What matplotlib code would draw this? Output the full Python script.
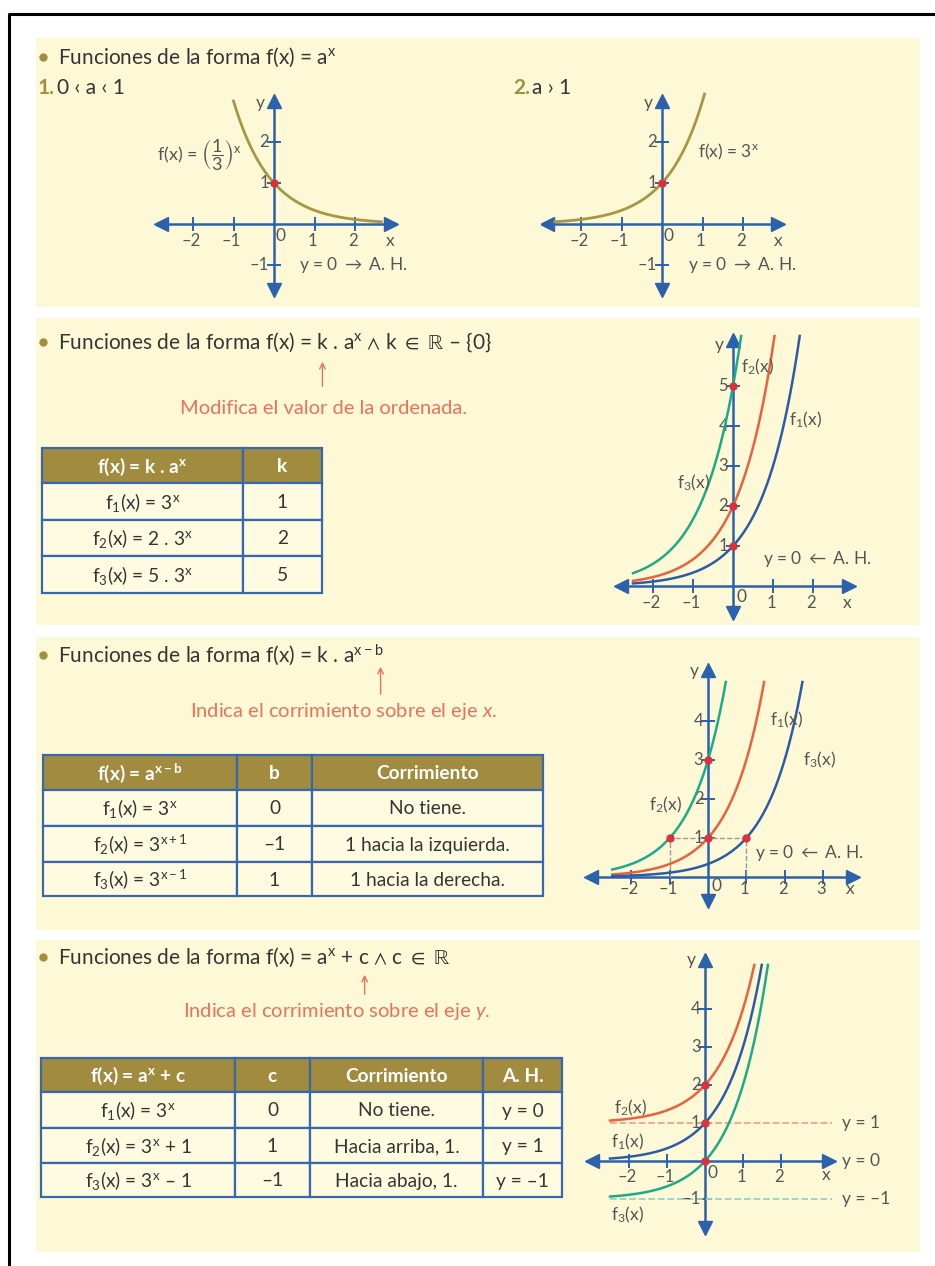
import numpy as np
import matplotlib.pyplot as plt
from matplotlib.patches import Rectangle

plt.rcParams['font.family'] = ['Lato', 'DejaVu Sans']
plt.rcParams['mathtext.fontset'] = 'custom'
plt.rcParams['mathtext.rm'] = 'Lato'
plt.rcParams['mathtext.it'] = 'Lato:italic'
plt.rcParams['mathtext.bf'] = 'Lato:bold'
plt.rcParams['mathtext.sf'] = 'Lato'
plt.rcParams['mathtext.default'] = 'rm'
plt.rcParams['mathtext.fallback'] = 'stixsans'

# parámetros de las funciones
base_a = 3
k_values = [1, 2, 5]
b_values = [0, -1, 1]
c_values = [0, 1, -1]

# textos de las tablas
k_header = [r'f(x) = k . a$^{\mathbf{x}}$', 'k']
k_formulas = [r'f$_1$(x) = 3$^{x}$', r'f$_2$(x) = 2 . 3$^{x}$', r'f$_3$(x) = 5 . 3$^{x}$']
b_header = [r'f(x) = a$^{\mathbf{x-b}}$', 'b', 'Corrimiento']
b_formulas = [r'f$_1$(x) = 3$^{x}$', r'f$_2$(x) = 3$^{x+1}$', r'f$_3$(x) = 3$^{x-1}$']
b_shifts = ['No tiene.', '1 hacia la izquierda.', '1 hacia la derecha.']
c_header = [r'f(x) = a$^{\mathbf{x}}$ + c', 'c', 'Corrimiento', 'A. H.']
c_formulas = [r'f$_1$(x) = 3$^{x}$', r'f$_2$(x) = 3$^{x}$ + 1', r'f$_3$(x) = 3$^{x}$ – 1']
c_shifts = ['No tiene.', 'Hacia arriba, 1.', 'Hacia abajo, 1.']

# colores
PANEL = '#FDF9D6'
ROW = '#FEFBE0'
HEAD = '#A08B3F'
OLIVE = '#A0903F'
BLUE = '#3768AE'
AXIS = '#2C62AB'
GOLD = '#A99642'
TEAL = '#1EAA8A'
ORANGE = '#E8623F'
NAVY = '#2D5CA6'
RED = '#D8333C'
SALMON = '#E8735B'
TXT = '#353535'
GRAY = '#555555'

FS_HEAD = 15
FS_NOTE = 14.5
FS_TAB = 13.8
FS_AX = 12
FS_LAB = 12.5

W, H = 935, 1266
fig = plt.figure(figsize=(W / 100, H / 100), dpi=100)
bg = fig.add_axes([0, 0, 1, 1])
bg.set_xlim(0, W)
bg.set_ylim(H, 0)
bg.axis('off')
renderer = fig.canvas.get_renderer()

# marco
bg.plot([9, 9, W], [H, 14, 14], color='black', lw=2.2)

# paneles de fondo
for top, bot in [(38, 307), (318, 625), (637, 930), (940, 1252)]:
    bg.add_patch(Rectangle((36, top), 884, bot - top, fc=PANEL, ec='none'))


def text_width(txt, size):
    t = bg.text(0, 0, txt, fontsize=size)
    w = t.get_window_extent(renderer).width
    t.remove()
    return w


def bullet(y, txt):
    bg.plot(43, y, 'o', color=OLIVE, ms=5)
    bg.text(58, y, txt, fontsize=FS_HEAD, color=TXT, va='center')


def note(prefix, mark, y0, y1, xt, yt, txt):
    # flecha debajo del símbolo señalado en el título
    x = 58 + text_width(prefix, FS_HEAD) - mark / 2
    bg.annotate('', xy=(x, y1), xytext=(x, y0),
                arrowprops=dict(arrowstyle='->', color=SALMON, lw=1.0))
    bg.text(xt, yt, txt, fontsize=FS_NOTE, color=SALMON, va='center')


bullet(57, r'Funciones de la forma f(x) = a$^{x}$')
bg.text(38, 88, '1.', fontsize=FS_HEAD, color=OLIVE, fontweight='bold', va='center')
bg.text(57, 88, '0 ‹ a ‹ 1', fontsize=FS_HEAD, color=TXT, va='center')
bg.text(513, 88, '2.', fontsize=FS_HEAD, color=OLIVE, fontweight='bold', va='center')
bg.text(532, 88, 'a › 1', fontsize=FS_HEAD, color=TXT, va='center')

bullet(342, r'Funciones de la forma f(x) = k . a$^{x}$ $\wedge$ k $\in$ $\mathbb{R}$ – {0}')
note('Funciones de la forma f(x) = k', text_width('k', FS_HEAD), 389, 359, 180, 408,
     'Modifica el valor de la ordenada.')

bullet(655, r'Funciones de la forma f(x) = k . a$^{x-b}$')
note(r'Funciones de la forma f(x) = k . a$^{x-b}$', 6, 697, 664, 190, 712,
     r'Indica el corrimiento sobre el eje $\mathit{x}$.')

bullet(957, r'Funciones de la forma f(x) = a$^{x}$ + c $\wedge$ c $\in$ $\mathbb{R}$')
note(r'Funciones de la forma f(x) = a$^{x}$ + c', text_width('c', FS_HEAD), 997, 972, 183, 1012,
     r'Indica el corrimiento sobre el eje $\mathit{y}$.')


def draw_table(xe, ye, header, rows):
    for i in range(len(ye) - 1):
        for j in range(len(xe) - 1):
            head = i == 0
            bg.add_patch(Rectangle((xe[j], ye[i]), xe[j + 1] - xe[j], ye[i + 1] - ye[i],
                                   fc=HEAD if head else ROW, ec=BLUE, lw=1.6))
            txt = header[j] if head else rows[i - 1][j]
            bg.text((xe[j] + xe[j + 1]) / 2, (ye[i] + ye[i + 1]) / 2 + 1, txt,
                    ha='center', va='center', fontsize=FS_TAB,
                    color='white' if head else TXT,
                    fontweight='bold' if head else 'normal')


def num(v):
    return str(v).replace('-', '–')


draw_table([42, 243, 322], [448, 483, 520, 556, 593], k_header,
           [[f, num(k)] for f, k in zip(k_formulas, k_values)])
draw_table([43, 237, 312, 543], [755, 790, 826, 862, 896], b_header,
           [[f, num(b), s] for f, b, s in zip(b_formulas, b_values, b_shifts)])
draw_table([41, 235, 310, 483, 562], [1058, 1092, 1128, 1163, 1197], c_header,
           [[f, num(c), s, 'y = ' + num(c)] for f, c, s in zip(c_formulas, c_values, c_shifts)])


def make_chart(ox, oy, ux, uy, xlim, ylim):
    left = (ox + xlim[0] * ux) / W
    width = (xlim[1] - xlim[0]) * ux / W
    bottom = 1 - (oy - ylim[0] * uy) / H
    height = (ylim[1] - ylim[0]) * uy / H
    ax = fig.add_axes([left, bottom, width, height])
    ax.set_xlim(xlim)
    ax.set_ylim(ylim)
    ax.axis('off')
    ax.ux, ax.uy = ux, uy
    return ax


def draw_axes(ax, xa, ya, xt, yt, xlab_dy, ylab_dx, lw=1.8):
    hx, hy = 4 / ax.ux, 4 / ax.uy
    ax.plot(xa, [0, 0], color=AXIS, lw=lw, zorder=2)
    ax.plot([0, 0], ya, color=AXIS, lw=lw, zorder=2)
    ax.plot(xa[0] + hx, 0, marker='<', ms=10, color=AXIS, zorder=2)
    ax.plot(xa[1] - hx, 0, marker='>', ms=10, color=AXIS, zorder=2)
    ax.plot(0, ya[0] + hy, marker='v', ms=10, color=AXIS, zorder=2)
    ax.plot(0, ya[1] - hy, marker='^', ms=10, color=AXIS, zorder=2)
    ax.plot(xt, np.zeros(len(xt)), ls='none', marker='|', ms=10, mew=1.4, color=AXIS, zorder=2)
    ax.plot(np.zeros(len(yt)), yt, ls='none', marker='_', ms=10, mew=1.4, color=AXIS, zorder=2)
    for v in xt:
        ax.text(v - 0.05, xlab_dy, num(v), ha='center', va='center', fontsize=FS_AX, color=GRAY)
    for v in yt:
        ax.text(ylab_dx, v, num(v), ha='right', va='center', fontsize=FS_AX, color=GRAY)


def dot(ax, x, y):
    ax.plot(x, y, 'o', color=RED, ms=5, zorder=4)


def label(ax, x, y, txt, ha='center', size=FS_LAB):
    ax.text(x, y, txt, ha=ha, va='center', fontsize=size, color=GRAY)


# 1. 0 < a < 1
ax1 = make_chart(274, 224, 40.5, 41, (-3.0, 3.2), (-1.9, 3.25))
draw_axes(ax1, (-2.9, 2.98), (-1.7, 3.1), [-2, -1, 1, 2], [-1, 1, 2], -0.42, -0.12)
xs = np.linspace(-1.0, 2.65, 200)
ax1.plot(xs, (1 / base_a) ** xs, color=GOLD, lw=2, zorder=3)
dot(ax1, 0, 1)
label(ax1, 0.17, -0.3, '0')
label(ax1, 2.87, -0.42, 'x')
label(ax1, -0.33, 2.95, 'y')
label(ax1, 0.62, -1.0, r'y = 0 $\rightarrow$ A. H.', ha='left')
label(ax1, -1.85, 1.68, r'f(x) = $\left(\dfrac{1}{3}\right)^{x}$', size=13)

# 2. a > 1
ax2 = make_chart(662, 224, 40.5, 41, (-3.0, 3.2), (-1.9, 3.25))
draw_axes(ax2, (-2.93, 2.96), (-1.7, 3.1), [-2, -1, 1, 2], [-1, 1, 2], -0.42, -0.12)
xs = np.linspace(-2.65, 1.05, 200)
ax2.plot(xs, base_a ** xs, color=GOLD, lw=2, zorder=3)
dot(ax2, 0, 1)
label(ax2, 0.17, -0.3, '0')
label(ax2, 2.87, -0.42, 'x')
label(ax2, -0.33, 2.95, 'y')
label(ax2, 0.65, -1.0, r'y = 0 $\rightarrow$ A. H.', ha='left')
label(ax2, 0.9, 1.76, r'f(x) = 3$^{x}$', ha='left')

# f(x) = k . a^x
ax3 = make_chart(733, 586, 40, 40, (-3.0, 3.2), (-0.9, 6.4))
draw_axes(ax3, (-2.9, 3.0), (-0.78, 6.25), [-2, -1, 1, 2], [1, 2, 3, 4, 5], -0.42, -0.12)
for k, col in zip(k_values, [NAVY, ORANGE, TEAL]):
    xs = np.linspace(-2.5, np.log(6.25 / k) / np.log(base_a), 200)
    ax3.plot(xs, k * base_a ** xs, color=col, lw=1.8, zorder=3)
    dot(ax3, 0, k)
label(ax3, 0.22, -0.28, '0')
label(ax3, 2.85, -0.42, 'x')
label(ax3, -0.33, 6.02, 'y')
label(ax3, 0.75, 0.68, r'y = 0 $\leftarrow$ A. H.', ha='left')
for lab, (lx, ly) in zip([r'f$_1$(x)', r'f$_2$(x)', r'f$_3$(x)'], [(1.8, 4.15), (0.6, 5.48), (-1.0, 2.58)]):
    label(ax3, lx, ly, lab)

# f(x) = a^(x-b)
ax4 = make_chart(708, 877, 38.3, 39, (-3.3, 4.0), (-0.85, 5.6))
draw_axes(ax4, (-3.16, 3.9), (-0.72, 5.4), [-2, -1, 1, 2, 3], [1, 2, 3, 4], -0.32, -0.12)
ax4.plot([-1, -1, 1, 1], [0, 1, 1, 0], ls='--', color='#9A9A9A', lw=1, zorder=2.5)
for b, col in zip(b_values, [ORANGE, TEAL, NAVY]):
    xs = np.linspace(-2.5, b + np.log(5.0) / np.log(base_a), 200)
    ax4.plot(xs, base_a ** (xs - b), color=col, lw=1.8, zorder=3)
    dot(ax4, b, 1)
dot(ax4, 0, base_a ** (0 - b_values[1]))
label(ax4, 0.21, -0.22, '0')
label(ax4, 3.7, -0.3, 'x')
label(ax4, -0.35, 5.28, 'y')
label(ax4, 1.22, 0.62, r'y = 0 $\leftarrow$ A. H.', ha='left')
for lab, (lx, ly) in zip([r'f$_1$(x)', r'f$_2$(x)', r'f$_3$(x)'], [(2.06, 4.03), (-1.12, 1.85), (2.92, 3.0)]):
    label(ax4, lx, ly, lab)

# f(x) = a^x + c
ax5 = make_chart(705, 1161, 38, 38, (-3.2, 5.0), (-2.0, 5.5))
draw_axes(ax5, (-3.08, 3.37), (-1.87, 5.4), [-2, -1, 1, 2], [-1, 1, 2, 3, 4], -0.42, -0.12)
for c, col, dash_col in zip(c_values, [NAVY, ORANGE, TEAL], [None, '#F2A18C', '#8ED6C6']):
    if dash_col:
        ax5.plot([-2.5, 3.34], [c, c], ls='--', color=dash_col, lw=1.3, zorder=2.5)
    xs = np.linspace(-2.5, np.log(5.16 - c) / np.log(base_a), 200)
    ax5.plot(xs, base_a ** xs + c, color=col, lw=1.8, zorder=3)
    dot(ax5, 0, 1 + c)
    label(ax5, 3.6, c, 'y = ' + num(c), ha='left')
label(ax5, 0.21, -0.32, '0')
label(ax5, 3.2, -0.37, 'x')
label(ax5, -0.36, 5.29, 'y')
for lab, (lx, ly) in zip([r'f$_1$(x)', r'f$_2$(x)', r'f$_3$(x)'], [(-2.03, 0.5), (-1.97, 1.39), (-2.03, -1.42)]):
    label(ax5, lx, ly, lab)

fig.savefig('out.png', dpi=100)
